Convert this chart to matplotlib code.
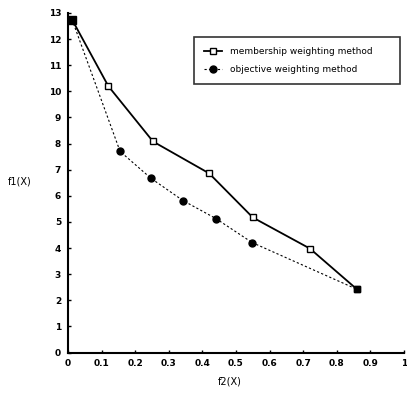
import matplotlib
matplotlib.use("Agg")
import matplotlib.pyplot as plt

membership_x = [0.012, 0.12, 0.253, 0.42, 0.55, 0.72, 0.86]
membership_y = [12.75, 10.2, 8.08, 6.86, 5.17, 3.98, 2.42]
objective_x = [0.012, 0.155, 0.247, 0.342, 0.44, 0.548, 0.86]
objective_y = [12.75, 7.7, 6.67, 5.82, 5.13, 4.21, 2.42]
x_ticks = [0, 0.1, 0.2, 0.3, 0.4, 0.5, 0.6, 0.7, 0.8, 0.9, 1]
x_tick_labels = ["0", "0.1", "0.2", "0.3", "0.4", "0.5", "0.6", "0.7", "0.8", "0.9", "1"]
y_ticks = list(range(0, 14))

fig = plt.figure(figsize=(4.07, 3.93), dpi=100)
ax = fig.add_axes([68/407, (393-352.5)/393, 336/407, (352.5-13)/393])

ax.plot(membership_x, membership_y, color="black", lw=1.3, marker="s", ms=4,
        mfc="white", mec="black", mew=1.0, label="membership weighting method")
ax.plot(objective_x[:-1], objective_y[:-1], color="black", lw=0.8, ls=(0, (2, 2)),
        marker="o", ms=5, mfc="black", mec="black", label="objective weighting method")
ax.plot(objective_x[-2:], objective_y[-2:], color="black", lw=0.8, ls=(0, (2, 2)))
ax.plot([membership_x[-1]], [membership_y[-1]], marker="s", ms=5, color="black")
ax.plot([membership_x[0]], [membership_y[0]], marker="s", ms=6, color="black")

ax.set_xlim(0, 1)
ax.set_ylim(0, 13)
ax.set_xticks(x_ticks)
ax.set_xticklabels(x_tick_labels)
ax.set_yticks(y_ticks)
for s in ["top", "right"]:
    ax.spines[s].set_visible(False)
for s in ["left", "bottom"]:
    ax.spines[s].set_linewidth(1.5)
ax.tick_params(axis="both", labelsize=6.5, length=2, width=1, direction="in", pad=5)
for lab in ax.get_xticklabels() + ax.get_yticklabels():
    lab.set_fontweight("bold")

fig.text(20/407, 1 - 182/393, "f1(X)", fontsize=7, ha="center", va="center")
fig.text(230/407, 1 - 381/393, "f2(X)", fontsize=7, ha="center", va="center")

x0 = (194-68)/336
x1 = (400-68)/336
ytop = (352.5-37)/339.5
leg = ax.legend(loc="upper left", bbox_to_anchor=(x0, ytop - 0.2, x1 - x0, 0.2),
                mode="expand", fontsize=6.5, frameon=True, fancybox=False,
                edgecolor="black", handlelength=2.0, borderpad=1.15,
                labelspacing=0.95, borderaxespad=0)
leg.get_frame().set_linewidth(1.2)

fig.savefig("out.png", dpi=100)
